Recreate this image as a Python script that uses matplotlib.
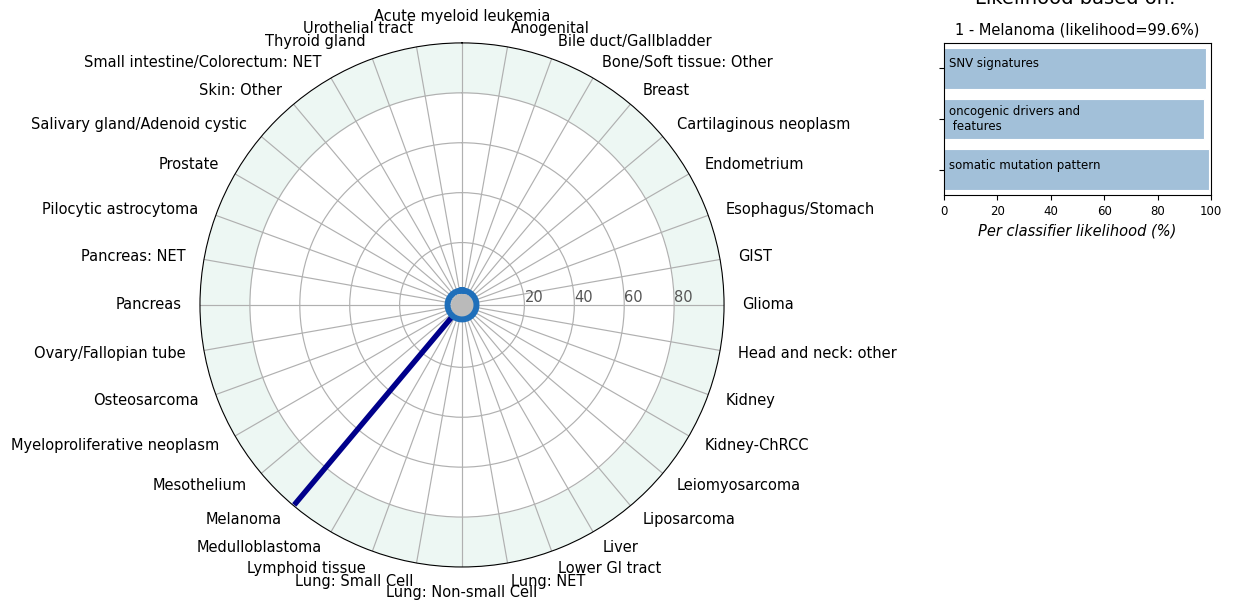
import numpy as np
import matplotlib
matplotlib.use("Agg")
import matplotlib.pyplot as plt

# Tumour types around the radar, clockwise from the top
tumour_types = [
    "Acute myeloid leukemia", "Anogenital", "Bile duct/Gallbladder",
    "Bone/Soft tissue: Other", "Breast", "Cartilaginous neoplasm",
    "Endometrium", "Esophagus/Stomach", "GIST", "Glioma",
    "Head and neck: other", "Kidney", "Kidney-ChRCC", "Leiomyosarcoma",
    "Liposarcoma", "Liver", "Lower GI tract", "Lung: NET",
    "Lung: Non-small Cell", "Lung: Small Cell", "Lymphoid tissue",
    "Medulloblastoma", "Melanoma", "Mesothelium",
    "Myeloproliferative neoplasm", "Osteosarcoma", "Ovary/Fallopian tube",
    "Pancreas", "Pancreas: NET", "Pilocytic astrocytoma", "Prostate",
    "Salivary gland/Adenoid cystic", "Skin: Other",
    "Small intestine/Colorectum: NET", "Thyroid gland", "Urothelial tract",
]
top_prediction = "Melanoma"
top_likelihood = 99.6
r_ticks = [20, 40, 60, 80]

# Per-classifier likelihoods for the top prediction (top to bottom)
classifiers = ["SNV signatures", "oncogenic drivers and\n features",
               "somatic mutation pattern"]
classifier_likelihood = [98.1, 97.5, 99.4]

FS = 10.5

fig = plt.figure(figsize=(12.36, 6.01), dpi=100)

# ---- radar of all tumour types ----
ax = fig.add_axes([0.1618, 0.0566, 0.424, 0.872], projection="polar")
ax.set_theta_zero_location("N")
ax.set_theta_direction(-1)
n = len(tumour_types)
angles_deg = np.arange(n) * 360.0 / n
theta = np.deg2rad(angles_deg)
ax.set_ylim(-5, 100)

full = np.linspace(0, 2 * np.pi, 721)
ax.fill_between(full, 80, 100, color="#edf7f3", zorder=0, lw=0)

ax.set_xticks(theta)
ax.set_xticklabels([])
ax.set_yticks(r_ticks)
ax.set_yticklabels([str(t) for t in r_ticks], fontsize=FS, color="#555555")
ax.set_rlabel_position(90)
ax.grid(True, color="#b0b0b0", lw=0.85)

# category names just outside the rim, aligned away from the centre
label_r = 107.4
for ang, th, name in zip(angles_deg, theta, tumour_types):
    if ang == 0 or ang == 180:
        ha = "center"
    elif ang < 180:
        ha = "left"
    else:
        ha = "right"
    va = "bottom" if ang == 0 else ("top" if ang == 180 else "center")
    ax.text(th, label_r, name, ha=ha, va=va, fontsize=FS, clip_on=False)

idx = tumour_types.index(top_prediction)
ax.plot([theta[idx], theta[idx]], [0, top_likelihood], color="darkblue",
        lw=3.9, solid_capstyle="butt", zorder=4)

# centre hub
ax.fill_between(full, -5, -0.4, color="#bababa", zorder=5, lw=0)
ax.plot(full, np.full_like(full, 0.8), color="#1f6fba", lw=4.3, zorder=6)

# ---- per-classifier bar chart ----
bx = fig.add_axes([0.7638, 0.6755, 0.216, 0.253])
y = np.arange(len(classifiers))[::-1]
bx.barh(y, classifier_likelihood, height=0.8, color="#a2c0d9",
        edgecolor="white", lw=0.8)
for yi, name in zip(y, classifiers):
    dy = 0.0 if "\n" in name else 0.09
    bx.text(2, yi + dy, name, ha="left", va="center", fontsize=8.5)
bx.set_xlim(0, 100)
bx.set_ylim(-0.5, 2.5)
bx.set_yticks(y)
bx.set_yticklabels([])
bx.set_xticks([0, 20, 40, 60, 80, 100])
bx.tick_params(axis="x", labelsize=8.5)
bx.set_xlabel("Per classifier likelihood (%)", fontsize=FS, style="italic")
bx.set_title(f"1 - {top_prediction} (likelihood={top_likelihood}%)",
             fontsize=FS)
fig.text(0.87, 0.9935, "Likelihood based on:", ha="center", va="baseline",
         fontsize=14)

fig.savefig("out.png", dpi=100)
